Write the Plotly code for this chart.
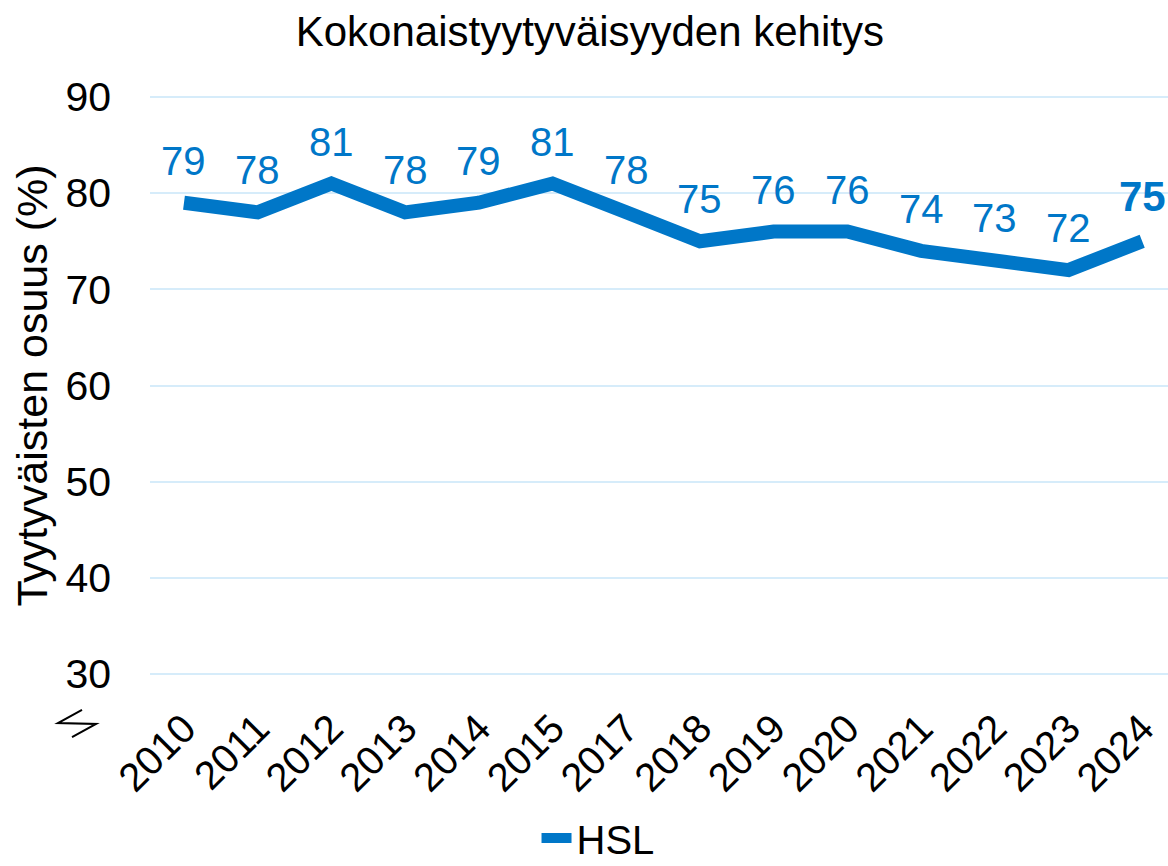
import plotly.graph_objects as go

years = ["2010", "2011", "2012", "2013", "2014", "2015", "2017",
         "2018", "2019", "2020", "2021", "2022", "2023", "2024"]
hsl = [79, 78, 81, 78, 79, 81, 78, 75, 76, 76, 74, 73, 72, 75]
y_ticks = [30, 40, 50, 60, 70, 80, 90]

BLUE = "#0077C8"
GRID = "#D6ECFA"
FONT = "Liberation Sans, Arial"

fig = go.Figure()
fig.add_trace(go.Scatter(
    x=years,
    y=hsl,
    name="HSL",
    mode="lines",
    line=dict(color=BLUE, width=14),
))

# value labels above the line, the latest year in bold
# (category index as x: year strings would be read as numbers)
for i, v in enumerate(hsl):
    last = i == len(hsl) - 1
    fig.add_annotation(
        x=i, y=v,
        text=("<b>%d</b>" % v) if last else str(v),
        showarrow=False,
        yanchor="middle",
        yshift=45 if last else 42,
        font=dict(color=BLUE, size=42 if last else 40, family=FONT),
    )

# axis break mark below the y axis
L, W, B, H = 150, 1018, 676, 581
def px(x, y):
    return (x - L) / W, (B - y) / H

pts = [(82, 710), (58, 723), (96, 724), (72, 737)]
path = "M " + " L ".join("%.4f,%.4f" % px(x, y) for x, y in pts)
fig.add_shape(type="path", path=path, xref="paper", yref="paper",
              line=dict(color="black", width=2))

fig.update_layout(
    width=1168,
    height=866,
    paper_bgcolor="white",
    plot_bgcolor="white",
    font=dict(family=FONT, color="black"),
    margin=dict(l=150, r=0, t=95, b=190),
    title=dict(text="Kokonaistyytyväisyyden kehitys", x=0.505, xanchor="center",
               y=1 - 31 / 866, yanchor="middle", font=dict(size=42)),
    showlegend=True,
    legend=dict(orientation="h", xref="container", yref="container",
                x=0.512, xanchor="center", y=1 - 838 / 866, yanchor="middle",
                font=dict(size=40)),
    xaxis=dict(
        type="category",
        range=[-0.461, 13.35],
        showgrid=False,
        showline=False,
        ticks="outside",
        ticklen=12,
        tickcolor="rgba(0,0,0,0)",
        tickangle=-45,
        tickfont=dict(size=40),
    ),
    yaxis=dict(
        range=[29.8, 90.2],
        tickvals=y_ticks,
        gridcolor=GRID,
        gridwidth=2,
        zeroline=False,
        showline=False,
        ticks="",
        ticklabelstandoff=38,
        tickfont=dict(size=41),
        title=dict(text="Tyytyväisten osuus (%)", font=dict(size=43), standoff=4),
    ),
)

fig.write_html("out.html", config={"displayModeBar": False},
               post_script="document.body.style.margin='0';document.body.style.overflow='hidden';")
